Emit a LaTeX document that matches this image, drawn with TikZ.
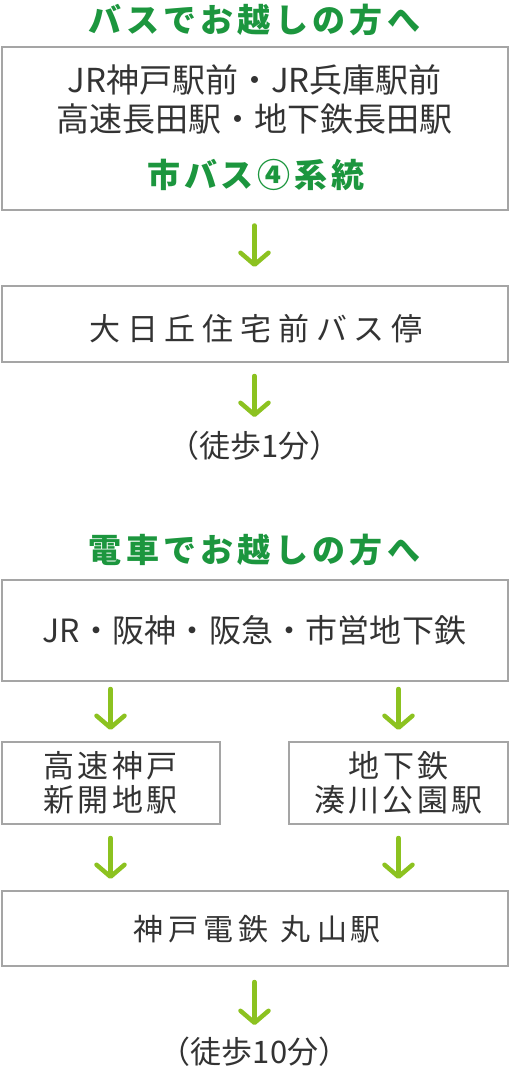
\documentclass[tikz,border=0pt]{standalone}
\usepackage{fontspec}
\usetikzlibrary{arrows.meta}
\newfontfamily\jp{Noto Sans CJK JP}
\newfontfamily\jpmid[LetterSpace=11]{Noto Sans CJK JP}
\newfontfamily\jptight[LetterSpace=0.5]{Noto Sans CJK JP}
\newfontfamily\jpwide[LetterSpace=22]{Noto Sans CJK JP}
\newfontfamily\jpsix[LetterSpace=16]{Noto Sans CJK JP}
\newfontfamily\jpnarrow{Noto Sans CJK JP}
\newfontfamily\jptitle[LetterSpace=13]{Noto Sans CJK JP}
\newfontfamily\jpsub[LetterSpace=12]{Noto Sans CJK JP}
\definecolor{titlegreen}{RGB}{28,150,62}
\definecolor{arrowgreen}{RGB}{140,194,32}
\definecolor{boxgray}{RGB}{165,165,165}
\definecolor{textgray}{RGB}{51,51,51}
\tikzset{
  frame/.style={draw=boxgray, line width=2pt, inner sep=0pt, outer sep=0pt, anchor=north west},
  txt/.style={text=textgray, inner sep=0pt, font=\jp\fontsize{33}{39}\selectfont, align=center},
  ttl/.style={text=titlegreen, inner sep=0pt, font=\jptitle\bfseries\fontsize{33}{36}\selectfont},
  walk/.style={text=textgray, inner sep=0pt, font=\jpnarrow\fontsize{31}{36}\selectfont},
  flow/.style={draw=arrowgreen, line width=4.5pt, line cap=round,
    -{Straight Barb[length=12pt,width=28pt,line width=4.5pt,round]}},
}
\begin{document}
\begin{tikzpicture}[x=1pt,y=-1pt]
\useasboundingbox (0,0) rectangle (509,1068);
% bus section
\node[ttl] (t1) at (254.5,20) {バスでお越しの方へ};
\node[frame, minimum width=506pt, minimum height=163pt] (b1) at (1.5,46.5) {};
\node[txt] (l1) at (254.5,80) {JR神戸駅前・JR兵庫駅前};
\node[txt] (l2) at (254.5,119) {高速長田駅・地下鉄長田駅};
\node[ttl, font=\jpsub\bfseries\fontsize{33}{36}\selectfont] (l3) at (256,175) {市バス④系統};
\node[frame, minimum width=506pt, minimum height=76pt] (b2) at (1.5,286) {};
\node[txt, font=\jpwide\fontsize{31}{34}\selectfont] (l4) at (256,329) {大日丘住宅前バス停};
\node[walk] (w1) at (254.5,446) {（徒歩1分）};
\draw[flow, shorten <=16pt, shorten >=19pt] (b1.south) -- (b2.north);
\draw[flow, shorten <=14pt, shorten >=14pt] (b2.south) -- (w1.north);
% train section
\node[ttl] (t2) at (254.5,550) {電車でお越しの方へ};
\node[frame, minimum width=506pt, minimum height=101pt] (b3) at (1.5,580) {};
\node[txt, font=\jptight\fontsize{32}{38}\selectfont] (l5) at (254.5,630) {JR・阪神・阪急・市営地下鉄};
\node[frame, minimum width=218pt, minimum height=82pt] (b4) at (1.5,742) {};
\node[frame, minimum width=219pt, minimum height=82pt] (b5) at (289,742) {};
\node[txt, font=\jpmid\fontsize{31}{34}\selectfont] (l6) at (b4.center) {高速神戸\\新開地駅};
\node[txt, font=\jpmid\fontsize{31}{34}\selectfont] (l7) at (b5.center) {地下鉄\\湊川公園駅};
\node[frame, minimum width=506pt, minimum height=75pt] (b6) at (1.5,891) {};
\node[txt, font=\jpsix\fontsize{30}{34}\selectfont] (l8) at (257,929) {神戸電鉄\hspace{12pt}丸\hspace{7pt}山\hspace{3pt}駅};
\node[walk] (w2) at (254.5,1052) {（徒歩10分）};
\draw[flow, shorten <=8pt, shorten >=12pt] (b3.south -| b4.north) -- (b4.north);
\draw[flow, shorten <=8pt, shorten >=12pt] (b3.south -| b5.north) -- (b5.north);
\draw[flow, shorten <=14pt, shorten >=12pt] (b4.south) -- (b4.south |- b6.north);
\draw[flow, shorten <=14pt, shorten >=12pt] (b5.south) -- (b5.south |- b6.north);
\draw[flow, shorten <=16pt, shorten >=12pt] (b6.south) -- (w2.north);
\end{tikzpicture}
\end{document}
